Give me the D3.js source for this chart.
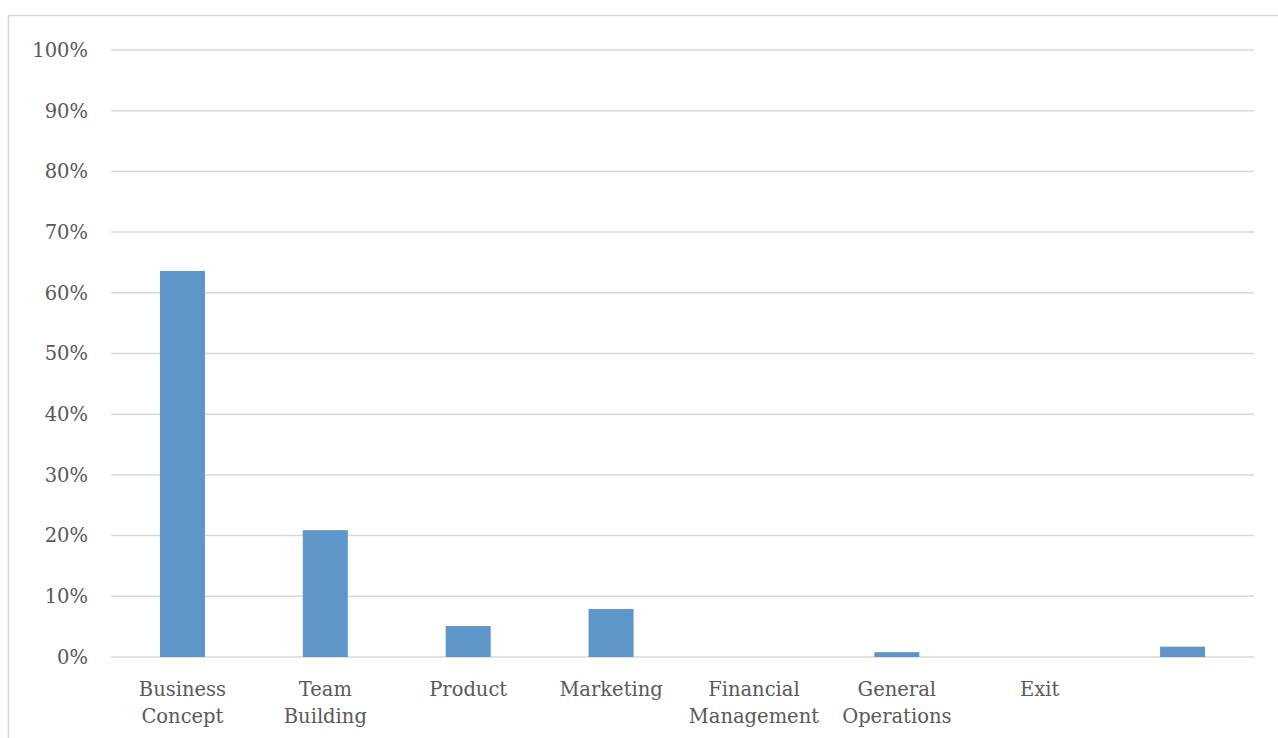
<!DOCTYPE html>
<html>
<head>
<meta charset="utf-8">
<script src="https://cdn.jsdelivr.net/npm/d3@7"></script>
<style>
    body { margin: 0; background: #fff; }
    svg { display: block; }
</style>
</head>
<body>
<div id="chart"></div>
<script>
const categories = [
    ["Business", "Concept"],
    ["Team", "Building"],
    ["Product"],
    ["Marketing"],
    ["Financial", "Management"],
    ["General", "Operations"],
    ["Exit"],
    [""]
];
const values = [0.636, 0.209, 0.051, 0.079, 0, 0.008, 0, 0.017];
const yTicks = [0, 0.1, 0.2, 0.3, 0.4, 0.5, 0.6, 0.7, 0.8, 0.9, 1.0];

const width = 1278;
const height = 738;
const margin = { top: 50, right: 24, bottom: 81, left: 111 };

const svg = d3.select("#chart")
    .append("svg")
    .attr("width", width)
    .attr("height", height);

// chart area frame (runs off the right and bottom edges)
svg.append("rect")
    .attr("x", 8.5)
    .attr("y", 15.5)
    .attr("width", width + 20)
    .attr("height", height + 20)
    .attr("fill", "none")
    .attr("stroke", "#d9d9d9")
    .attr("stroke-width", 1.5);

const x = d3.scaleBand()
    .domain(d3.range(categories.length))
    .range([margin.left, width - margin.right])
    .paddingInner(0.685)
    .paddingOuter(0.3425);

const y = d3.scaleLinear()
    .domain([0, 1])
    .range([height - margin.bottom, margin.top]);

// gridlines
svg.append("g")
    .selectAll("line")
    .data(yTicks)
    .join("line")
    .attr("x1", margin.left)
    .attr("x2", width - margin.right)
    .attr("y1", d => y(d))
    .attr("y2", d => y(d))
    .attr("stroke", "#d9d9d9")
    .attr("stroke-width", 1.5);

// y labels
svg.append("g")
    .selectAll("text")
    .data(yTicks)
    .join("text")
    .attr("x", 88)
    .attr("y", d => y(d))
    .attr("dy", "0.35em")
    .attr("text-anchor", "end")
    .attr("font-family", "DejaVu Serif")
    .attr("font-size", "19.5px")
    .attr("fill", "#595959")
    .text(d => d3.format(".0%")(d));

// bars
svg.append("g")
    .selectAll("rect")
    .data(values)
    .join("rect")
    .attr("x", (d, i) => x(i))
    .attr("width", x.bandwidth())
    .attr("y", d => y(d))
    .attr("height", d => y(0) - y(d))
    .attr("fill", "#5f96c9");

// category labels
const labels = svg.append("g")
    .selectAll("text")
    .data(categories)
    .join("text")
    .attr("text-anchor", "middle")
    .attr("font-family", "DejaVu Serif")
    .attr("font-size", "19.5px")
    .attr("fill", "#595959")
    .attr("transform", (d, i) => `translate(${x(i) + x.bandwidth() / 2}, 696)`);

labels.selectAll("tspan")
    .data(d => d)
    .join("tspan")
    .attr("x", 0)
    .attr("y", (d, i) => i * 27)
    .text(d => d);
</script>
</body>
</html>
